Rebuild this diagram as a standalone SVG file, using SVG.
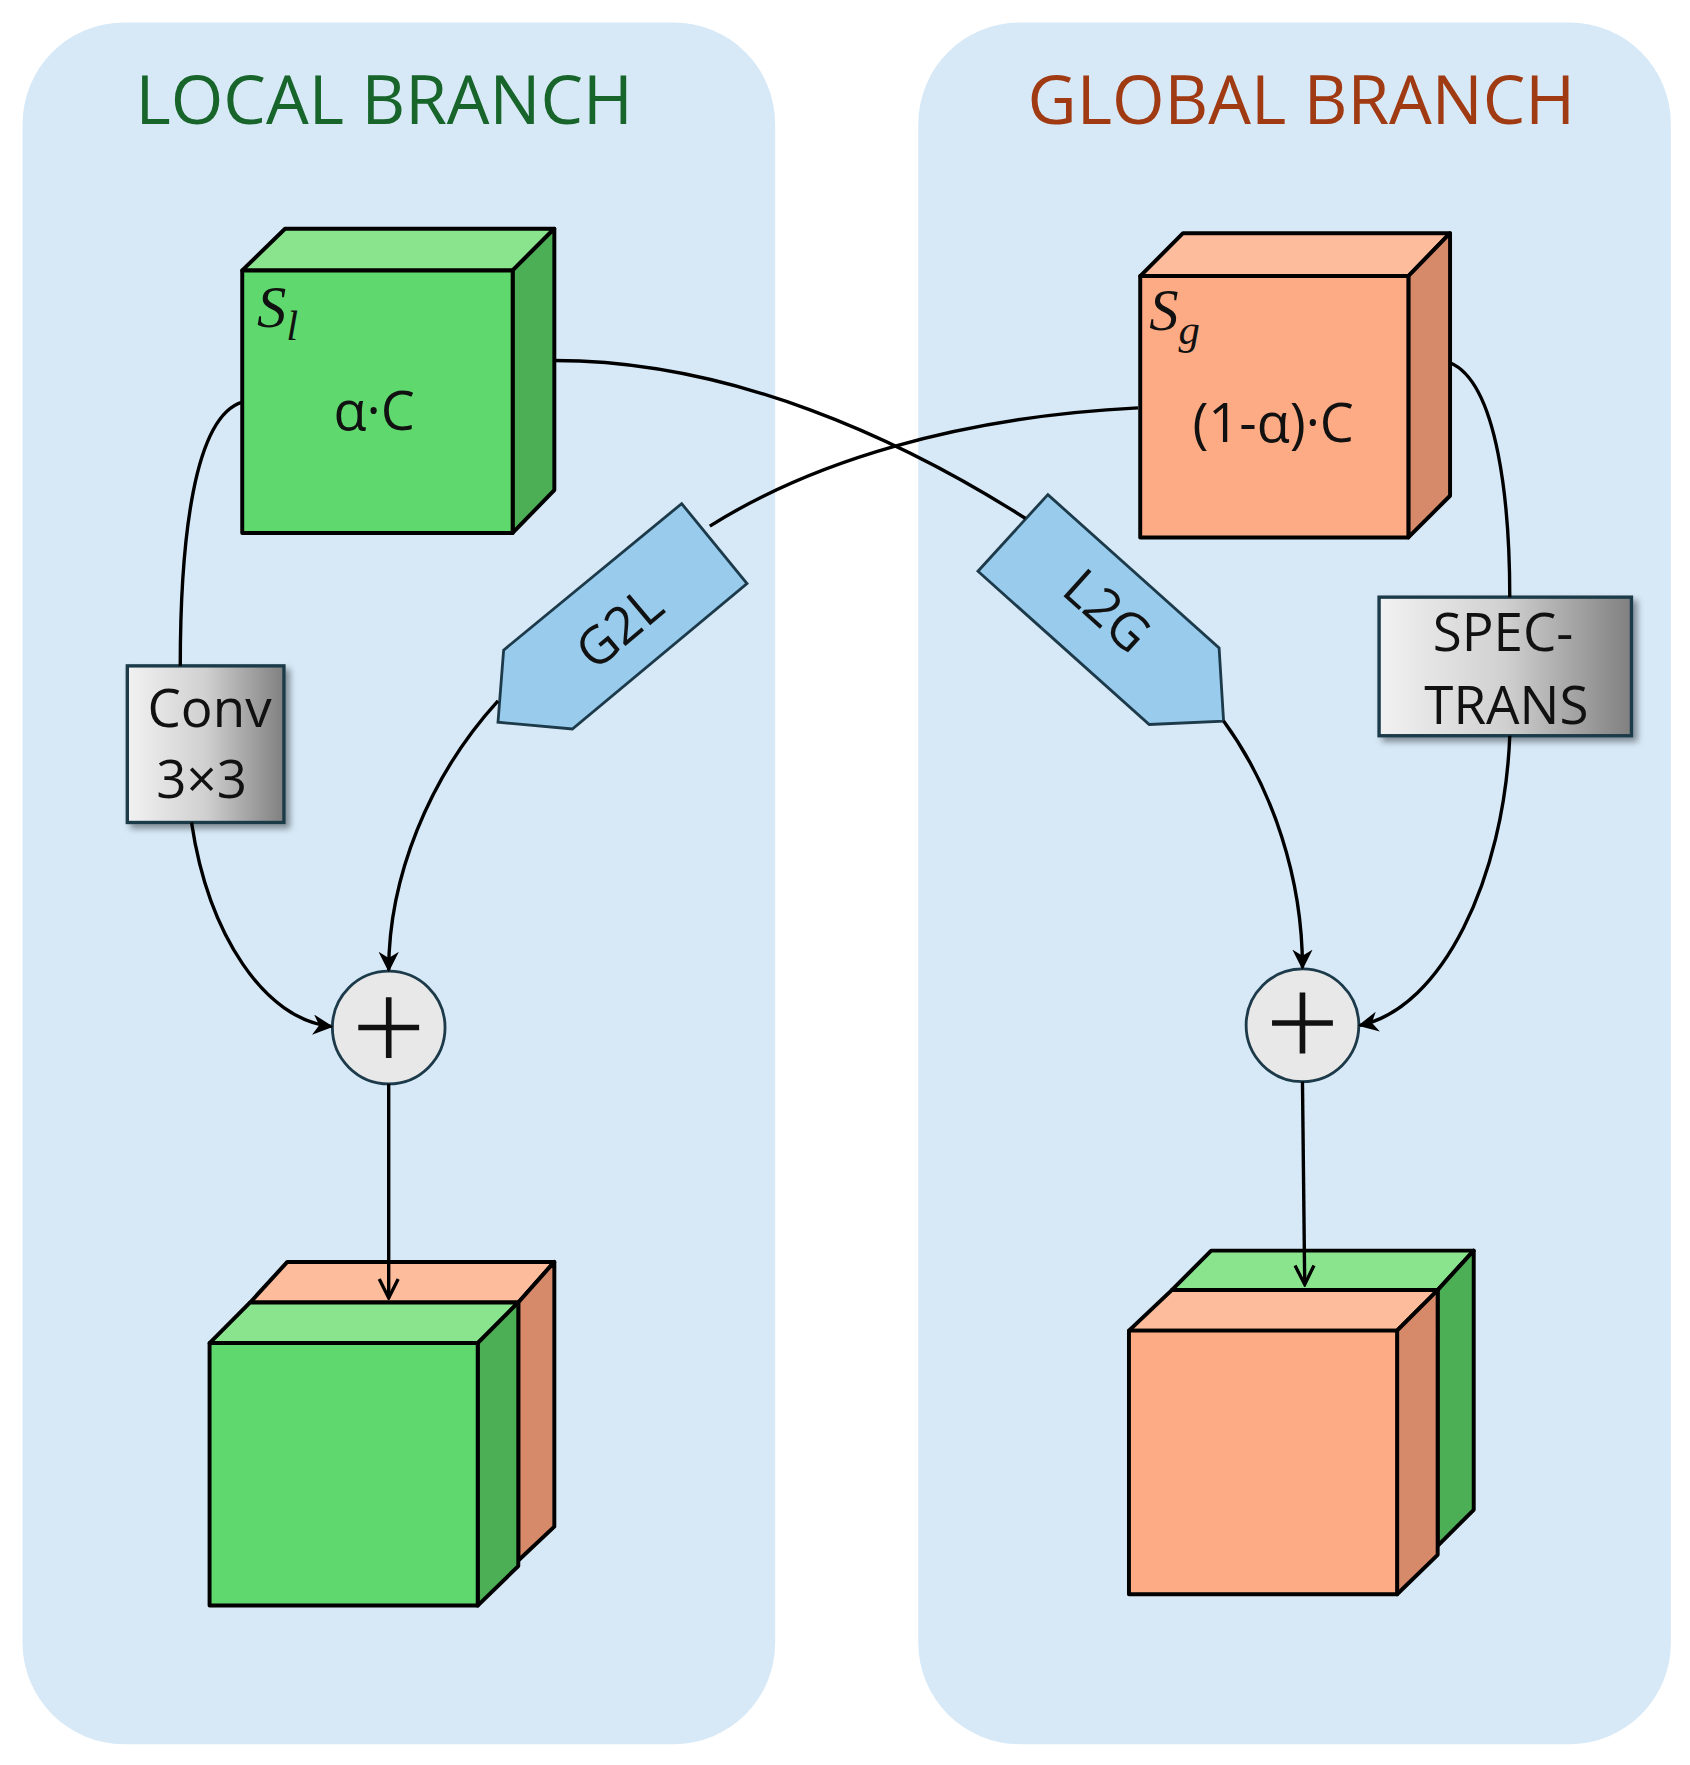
<svg xmlns="http://www.w3.org/2000/svg" width="1690" height="1765" viewBox="0 0 1690 1765">
<defs>
<style>
.panel{fill:#d7e9f7}
.gf{fill:#5fd96e;stroke:#000;stroke-width:3.5;stroke-linejoin:round}
.gt{fill:#8ae48e;stroke:#000;stroke-width:3.5;stroke-linejoin:round}
.gs{fill:#4caf55;stroke:#000;stroke-width:3.5;stroke-linejoin:round}
.of{fill:#fdab84;stroke:#000;stroke-width:3.5;stroke-linejoin:round}
.ot{fill:#fdbd9c;stroke:#000;stroke-width:3.5;stroke-linejoin:round}
.os{fill:#d68a6a;stroke:#000;stroke-width:3.5;stroke-linejoin:round}
.box{fill:url(#gray);stroke:#1c3a4a;stroke-width:3;filter:url(#sh)}
.pent{fill:#98cbec;stroke:#1c3a4a;stroke-width:2.5}
.t{font-family:"Open Sans","DejaVu Sans",sans-serif;fill:#111}
.c{fill:none;stroke:#000;stroke-width:3}
.plus{fill:#e8e8e8;stroke:#1c3a4a;stroke-width:2.5}
</style>
<linearGradient id="gray" x1="0" y1="0" x2="1" y2="0"><stop offset="0" stop-color="#f2f2f2"/><stop offset="0.5" stop-color="#d0d0d0"/><stop offset="1" stop-color="#808080"/></linearGradient>
<filter id="sh" x="-20%" y="-20%" width="150%" height="150%"><feDropShadow dx="4" dy="4" stdDeviation="3" flood-color="#000" flood-opacity="0.4"/></filter>
<marker id="af" viewBox="0 0 10 10" refX="9" refY="5" markerWidth="6" markerHeight="6" orient="auto" markerUnits="strokeWidth"><path d="M0,0 L10,5 L0,10 L3,5 z" fill="#000"/></marker>
<marker id="ao" viewBox="0 0 10 10" refX="9" refY="5" markerWidth="7" markerHeight="7" orient="auto" markerUnits="strokeWidth"><path d="M1,1 L9,5 L1,9" fill="none" stroke="#000" stroke-width="1.4"/></marker>
</defs>
<g transform="scale(1.1267)">
<g id="local-panel"><rect class="panel" x="20" y="20" width="668" height="1528" rx="90"/>
<text class="t" x="341" y="110" font-size="60" text-anchor="middle" style="fill:#17652a">LOCAL BRANCH</text></g>
<g id="global-panel"><rect class="panel" x="815" y="20" width="668" height="1528" rx="90"/>
<text class="t" x="1155" y="110" font-size="60" text-anchor="middle" style="fill:#a03a12">GLOBAL BRANCH</text></g>

<g id="sl-cube">
<polygon class="gt" points="215,240 253,203 492,203 455,240"/>
<polygon class="gs" points="455,240 492,203 492,435 455,473"/>
<rect class="gf" x="215" y="240" width="240" height="233"/>
<text x="228" y="290" font-size="52" font-style="italic" font-family="Liberation Serif,serif" fill="#111">S<tspan font-size="38" dy="12">l</tspan></text>
<text class="t" x="332" y="382" font-size="48" text-anchor="middle">α·C</text>
</g>
<g id="sg-cube">
<polygon class="ot" points="1012,245 1050,207 1287,207 1250,245"/>
<polygon class="os" points="1250,245 1287,207 1287,440 1250,477"/>
<rect class="of" x="1012" y="245" width="238" height="232"/>
<text x="1020" y="293" font-size="52" font-style="italic" font-family="Liberation Serif,serif" fill="#111">S<tspan font-size="38" dy="12">g</tspan></text>
<text class="t" x="1130" y="392" font-size="48" text-anchor="middle">(1-α)·C</text>
</g>
<g id="conv"><rect class="box" x="113" y="591" width="139" height="139"/>
<text class="t" x="186" y="645" font-size="47" text-anchor="middle">Conv</text>
<text class="t" x="179" y="708" font-size="47" text-anchor="middle">3×3</text></g>
<g id="spec"><rect class="box" x="1224" y="530" width="224" height="123"/>
<text class="t" x="1334" y="578" font-size="47" text-anchor="middle">SPEC-</text>
<text class="t" x="1337" y="643" font-size="47" text-anchor="middle">TRANS</text></g>
<g id="g2l"><polygon class="pent" points="605,447 663,518 508,647 442,641 447,577"/>
<text class="t" x="552" y="560" font-size="46" text-anchor="middle" transform="rotate(-40 552 560)" dominant-baseline="middle">G2L</text></g>
<g id="l2g"><polygon class="pent" points="930,439 1082,575 1086,640 1020,643 868,507"/>
<text class="t" x="980" y="545" font-size="46" text-anchor="middle" transform="rotate(42 980 545)" dominant-baseline="middle">L2G</text></g>
<g id="plus-local"><circle class="plus" cx="345" cy="912" r="50"/><path d="M318,912 H372 M345,885 V939" stroke="#111" stroke-width="5"/></g>
<g id="plus-global"><circle class="plus" cx="1156" cy="910" r="50"/><path d="M1129,908 H1183 M1156,881 V935" stroke="#111" stroke-width="5"/></g>
<g id="out-local">
<polygon class="ot" points="222,1156 255,1120 492,1120 460,1156"/>
<polygon class="os" points="460,1156 492,1120 492,1355 460,1385"/>
<polygon class="gt" points="186,1192 222,1156 460,1156 424,1192"/>
<polygon class="gs" points="424,1192 460,1156 460,1390 424,1425"/>
<rect class="gf" x="186" y="1192" width="238" height="233"/>
</g>
<g id="out-global">
<polygon class="gt" points="1040,1145 1075,1110 1308,1110 1276,1145"/>
<polygon class="gs" points="1276,1145 1308,1110 1308,1340 1276,1372"/>
<polygon class="ot" points="1002,1181 1040,1145 1276,1145 1240,1181"/>
<polygon class="os" points="1240,1181 1276,1145 1276,1380 1240,1415"/>
<rect class="of" x="1002" y="1181" width="238" height="234"/>
</g>

<g id="connectors">
<path class="c" d="M215,357 C172,370 160,480 160,591"/>
<path class="c" d="M170,730 C185,830 235,905 294,911" marker-end="url(#af)"/>
<path class="c" d="M492,320 C650,320 800,390 910,460"/>
<path class="c" d="M1086,640 C1130,700 1156,780 1156,859" marker-end="url(#af)"/>
<path class="c" d="M1010,362 C850,370 720,410 630,467"/>
<path class="c" d="M442,622 C380,690 345,780 345,861" marker-end="url(#af)"/>
<path class="c" d="M1287,322 C1330,340 1340,450 1340,530"/>
<path class="c" d="M1340,653 C1335,780 1280,895 1207,910" marker-end="url(#af)"/>
<path class="c" d="M345,962 L345,1152" marker-end="url(#ao)"/>
<path class="c" d="M1156,960 L1158,1140" marker-end="url(#ao)"/>
</g>
</g>
</svg>
